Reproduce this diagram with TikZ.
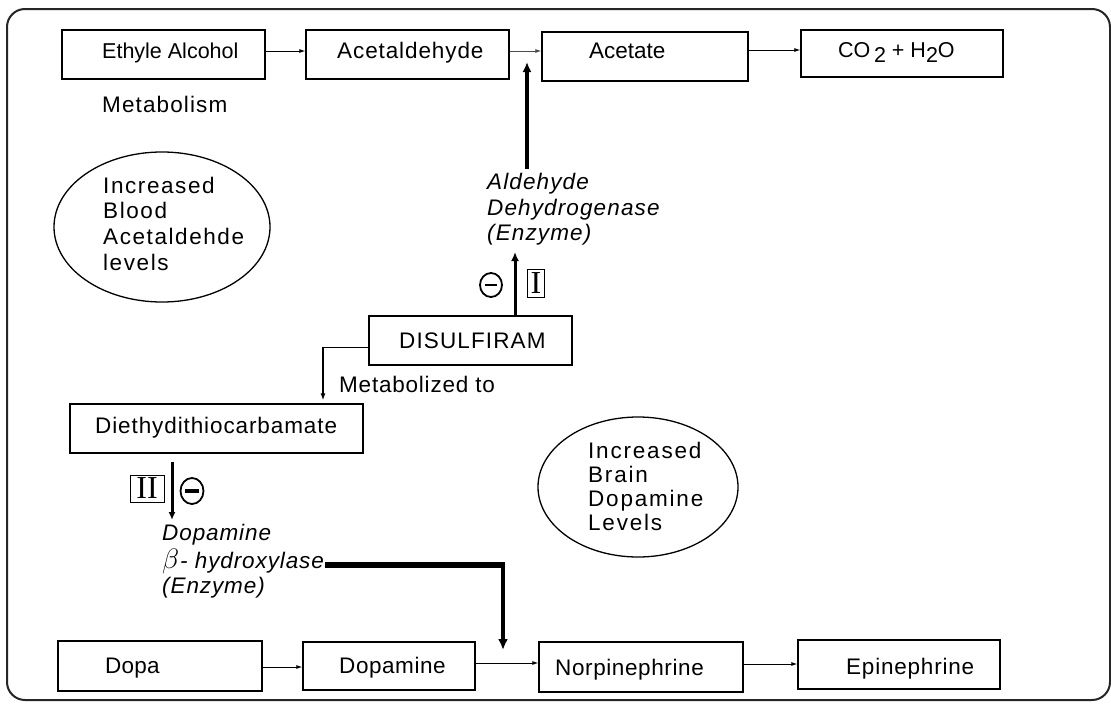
\documentclass[tikz,border=0pt]{standalone}
\usepackage{fontspec}
\usepackage{graphicx}
\setmainfont{Liberation Sans}
\newfontfamily\romanfam{Liberation Serif}
\usetikzlibrary{arrows.meta,shapes.geometric}
\newcommand\basefs{\fontsize{22.5}{26}\selectfont}
\newcommand\smallfs{\fontsize{21.5}{26}\selectfont}
\newcommand\lsp[1]{\addfontfeature{LetterSpace=#1}}
\begin{document}
\begin{tikzpicture}[x=1pt,y=-1pt,
  box/.style={draw, line width=1.3pt, inner sep=0pt},
  lbl/.style={anchor=base west, inner sep=0pt, font=\basefs},
  ilbl/.style={anchor=base west, inner sep=0pt, font=\basefs\itshape},
  thinarr/.style={line width=0.9pt, -{Latex[length=6pt,width=4pt]}},
  bigarr/.style={line width=3.2pt, -{Latex[length=10pt,width=9pt]}},
  oval/.style={draw, ellipse, line width=1.3pt, inner sep=0pt},
  minus/.style={draw, ellipse, line width=1.8pt, inner sep=0pt},
  roman/.style={draw, line width=1pt, inner sep=0pt, font=\romanfam\fontsize{32}{32}\selectfont}
]
\useasboundingbox (0,0) rectangle (1111,704);
\fill[white] (0,0) rectangle (1111,704);
% frame
\draw[line width=2pt, rounded corners=18pt, black!85] (7,9) rectangle (1110,700);

% top row boxes
\node[box, minimum width=203, minimum height=49] (ethyl) at (163.5,54.5) {};
\node[box, minimum width=203, minimum height=49] (acetal) at (407.5,54.5) {};
\node[box, minimum width=206, minimum height=49] (acetate) at (645,56.5) {};
\node[box, minimum width=202, minimum height=47] (co2) at (902,53.5) {};
\node[lbl, font=\smallfs] (tethyl) at (102,58) {Ethyle Alcohol};
\node[lbl] (tacetal) at (337,58) {\lsp{4}Acetaldehyde};
\node[lbl] (tacetate) at (589,58) {Acetate};
\node[lbl, font=\smallfs] (tco2) at (838,57) {CO\,\raisebox{-5pt}{2} + H\raisebox{-5pt}{2}O};
\node[lbl] (tmetab) at (102,112) {\lsp{5}Metabolism};

\draw[thinarr] ([yshift=3.5pt]ethyl.east) -- ([yshift=3.5pt]ethyl.east -| acetal.west);
\draw[thinarr, black!70] ([yshift=3.5pt]acetal.east) -- ([yshift=3.5pt]acetal.east -| acetate.west);
\draw[thinarr] ([yshift=6.5pt]acetate.east) -- ([yshift=6.5pt]acetate.east -| co2.west);

% enzyme arrow into acetaldehyde->acetate
\coordinate (jtop) at (527,62);
\coordinate (jbot) at (527,169);
\draw[bigarr] (jbot) -- (jtop);

% ellipse 1
\node[oval, minimum width=216, minimum height=150] (e1) at (162,227) {};
\node[lbl] (e1a) at (103,193) {\lsp{7}Increased};
\node[lbl] (e1b) at (103,218) {\lsp{7}Blood};
\node[lbl] (e1c) at (103,244) {\lsp{7}Acetaldehde};
\node[lbl] (e1d) at (103,270) {\lsp{7}levels};

% aldehyde dehydrogenase
\node[ilbl] (ald1) at (487,189) {\lsp{5}Aldehyde};
\node[ilbl] (ald2) at (487,215) {\lsp{5}Dehydrogenase};
\node[ilbl] (ald3) at (487,240) {\lsp{5}(Enzyme)};

% disulfiram
\node[box, minimum width=203, minimum height=49] (disulf) at (470.5,340.5) {};
\node[lbl] (tdisulf) at (399,348) {\lsp{5}DISULFIRAM};
\coordinate (aldtip) at (515,252);
\draw[line width=3pt, -{Latex[length=9pt,width=8pt]}] (disulf.north -| aldtip) -- (aldtip);
\node[minus, minimum width=22, minimum height=24] (m1) at (491,285) {};
\draw[line width=2.6pt] ([xshift=-6pt]m1.center) -- ([xshift=6pt]m1.center);
\node[roman, minimum width=17, minimum height=28] (r1) at (536,283) {I};

% to diethyldithiocarbamate
\node[box, minimum width=293, minimum height=49] (diethyl) at (216.5,428.5) {};
\node[lbl] (tdiethyl) at (95,433) {\lsp{4}Diethydithiocarbamate};
\coordinate (bend) at (323,347);
\draw[line width=1pt] (disulf.west |- bend) -- (bend);
\draw[line width=2pt, -{Latex[length=7pt,width=5pt]}, shorten >=3pt] (bend) -- (bend |- diethyl.north);
\node[lbl] (tmetto) at (339,392) {\lsp{3.5}Metabolized to};

% diethyl -> DBH
\coordinate (d1) at (172,462);
\coordinate (d2) at (172,520);
\draw[line width=3pt, -{Latex[length=8pt,width=7pt]}] (d1) -- (d2);
\node[roman, minimum width=34, minimum height=27] (r2) at (147,488.5) {II};
\node[minus, minimum width=23, minimum height=26] (m2) at (192,491) {};
\draw[line width=4.5pt] ([xshift=-7pt]m2.center) -- ([xshift=7pt]m2.center);

\node[ilbl] (dbh1) at (162,540) {\lsp{4}Dopamine};
\node[ilbl] (dbh2) at (162,568) {\lsp{4}\scalebox{1.35}{$\beta$}\kern1pt- hydroxylase};
\node[ilbl] (dbh3) at (162,593) {\lsp{4}(Enzyme)};

% thick L to dopamine->norpinephrine
\coordinate (h1) at (325,565);
\coordinate (h2) at (503,565);
\coordinate (j2) at (503,650);
\draw[line width=5.5pt] (h1) -- ([xshift=1.5pt]h2);
\draw[line width=3.5pt, -{Latex[length=11pt,width=10pt]}] (h2) -- (j2);

% ellipse 2
\node[oval, minimum width=200, minimum height=140] (e2) at (638,487) {};
\node[lbl] (e2a) at (588,458) {\lsp{8}Increased};
\node[lbl] (e2b) at (588,482) {\lsp{8}Brain};
\node[lbl] (e2c) at (588,506) {\lsp{8}Dopamine};
\node[lbl] (e2d) at (588,530) {\lsp{8}Levels};

% bottom row
\node[box, minimum width=204, minimum height=50] (dopa) at (160,666) {};
\node[box, minimum width=172, minimum height=48] (dopamine) at (389,666) {};
\node[box, minimum width=204, minimum height=50] (norpi) at (641,667) {};
\node[box, minimum width=202, minimum height=49] (epi) at (899,664.5) {};
\node[lbl] (tdopa) at (105,673) {\lsp{1}Dopa};
\node[lbl] (tdopamine) at (339,673) {\lsp{2.5}Dopamine};
\node[lbl] (tnorpi) at (555,675) {\lsp{2.7}Norpinephrine};
\node[lbl] (tepi) at (846,674) {\lsp{3.5}Epinephrine};
\draw[thinarr] ([yshift=-1pt]dopa.east) -- ([yshift=-1pt]dopa.east -| dopamine.west);
\draw[thinarr] ([yshift=3pt]dopamine.east) -- ([yshift=3pt]dopamine.east -| norpi.west);
\draw[thinarr] ([yshift=3pt]norpi.east) -- ([yshift=3pt]norpi.east -| epi.west);
\end{tikzpicture}
\end{document}
